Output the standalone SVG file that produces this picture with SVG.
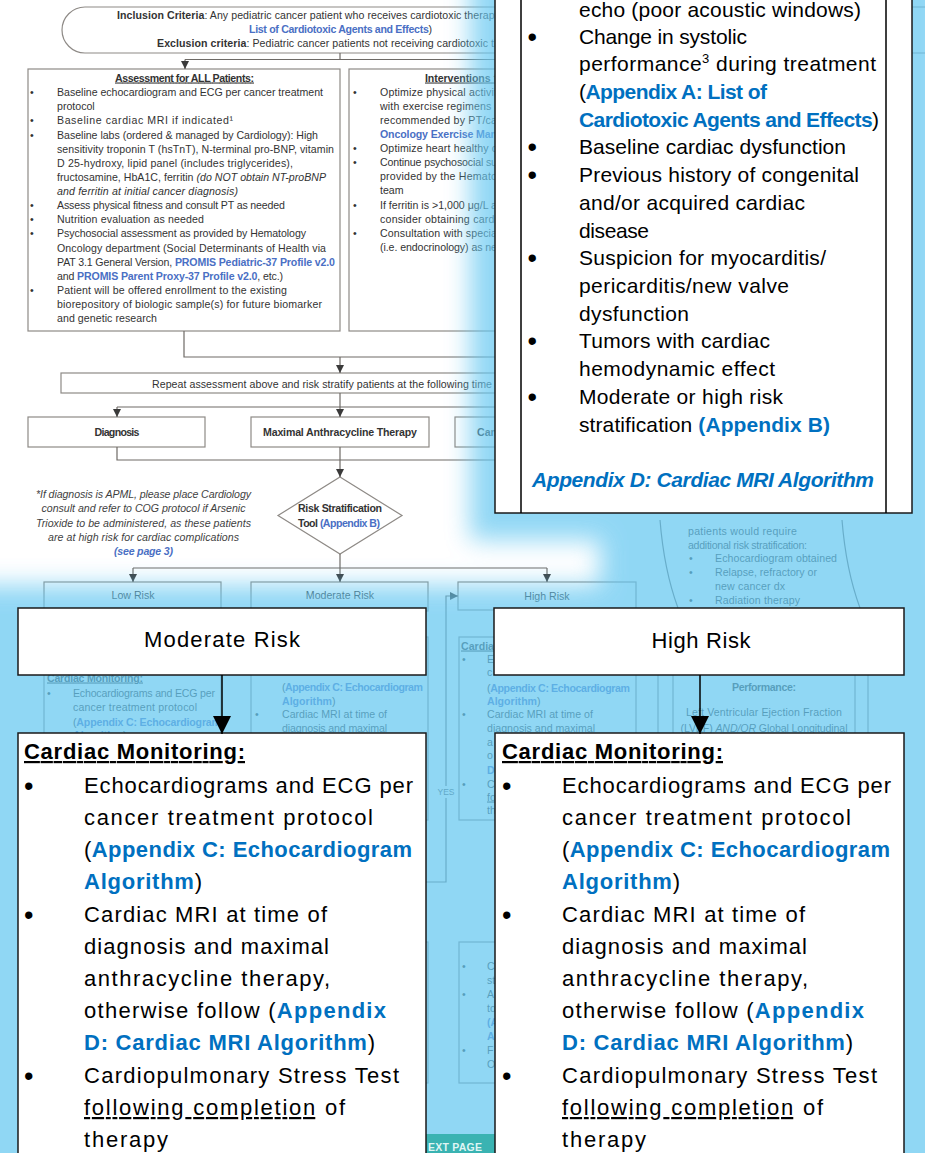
<svg xmlns="http://www.w3.org/2000/svg" width="925" height="1153" viewBox="0 0 925 1153">
<defs>
<style>
.bgt{font-family:"Liberation Sans",Arial,Helvetica,sans-serif;font-size:10.6px;fill:#333}
.b{font-weight:bold}
.i{font-style:italic}
.u{text-decoration:underline}
.lk{fill:#4a6fc4;font-weight:bold}
.nt{fill:#3f3f3f;font-style:italic}
.box{fill:#fff;stroke:#8e8a86;stroke-width:1.2}
.cn{fill:none;stroke:#6e6a66;stroke-width:1.2}
.ov{font-family:"Liberation Sans",Arial,Helvetica,sans-serif;font-size:21px;fill:#000}
.ovl{font-size:22px}
.bu{font-family:"Liberation Sans",Arial,Helvetica,sans-serif;font-size:27px;fill:#000}
.ob{font-weight:bold;fill:#0070c0}
.obox{fill:#fff;stroke:#1a1a1a;stroke-width:1.5}
.oline{fill:none;stroke:#000;stroke-width:1.5}
.glow{fill:#66c8f1}
</style>
<marker id="arr" viewBox="0 0 8 8" refX="8" refY="4" markerWidth="8" markerHeight="8" markerUnits="userSpaceOnUse" orient="auto"><path d="M0,0 L8,4 L0,8 z" fill="#3a3a3a"/></marker>
<marker id="arrBig" viewBox="0 0 18 18" refX="18" refY="9" markerWidth="18" markerHeight="18" markerUnits="userSpaceOnUse" orient="auto"><path d="M0,0 L18,9 L0,18 z" fill="#000"/></marker>
<filter id="soft" x="-20%" y="-20%" width="140%" height="140%"><feGaussianBlur stdDeviation="12"/></filter>
</defs>
<rect width="925" height="1153" fill="#fff"/>

<!-- ===== Background flowchart ===== -->
<g id="inclusion-criteria">
<path class="box" d="M960 7 H85 A23 23 0 0 0 85 53 H960"/>
<text class="bgt" x="117" y="18.5" textLength="383" lengthAdjust="spacing"><tspan class="b">Inclusion Criteria</tspan>: Any pediatric cancer patient who receives cardiotoxic therapy</text>
<text class="bgt" x="249" y="32.5" textLength="183" lengthAdjust="spacing"><tspan class="lk">List of Cardiotoxic Agents and Effects</tspan>)</text>
<text class="bgt" x="157" y="46.5" textLength="343" lengthAdjust="spacing"><tspan class="b">Exclusion criteria</tspan>: Pediatric cancer patients not receiving cardiotoxic th</text>
</g>

<g id="assessment">
<rect class="box" x="28" y="69" width="312" height="262"/>
<text class="bgt b u" x="184.5" y="81.5" text-anchor="middle" textLength="139" lengthAdjust="spacing">Assessment for ALL Patients:</text>
<text class="bgt" x="30" y="96">•</text>
<text class="bgt" x="57" y="96" textLength="266" lengthAdjust="spacing">Baseline echocardiogram and ECG per cancer treatment</text>
<text class="bgt" x="57" y="110">protocol</text>
<text class="bgt" x="30" y="124">•</text>
<text class="bgt" x="57" y="124" textLength="176" lengthAdjust="spacing">Baseline cardiac MRI if indicated¹</text>
<text class="bgt" x="30" y="139">•</text>
<text class="bgt" x="57" y="139" textLength="261" lengthAdjust="spacing">Baseline labs (ordered &amp; managed by Cardiology): High</text>
<text class="bgt" x="57" y="153" textLength="277" lengthAdjust="spacing">sensitivity troponin T (hsTnT), N-terminal pro-BNP, vitamin</text>
<text class="bgt" x="57" y="167" textLength="236" lengthAdjust="spacing">D 25-hydroxy, lipid panel (includes triglycerides),</text>
<text class="bgt" x="57" y="181" textLength="269" lengthAdjust="spacing">fructosamine, HbA1C, ferritin <tspan class="i">(do NOT obtain NT-proBNP</tspan></text>
<text class="bgt i" x="57" y="195" textLength="181" lengthAdjust="spacing">and ferritin at initial cancer diagnosis)</text>
<text class="bgt" x="30" y="209">•</text>
<text class="bgt" x="57" y="209" textLength="228" lengthAdjust="spacing">Assess physical fitness and consult PT as needed</text>
<text class="bgt" x="30" y="223">•</text>
<text class="bgt" x="57" y="223" textLength="147" lengthAdjust="spacing">Nutrition evaluation as needed</text>
<text class="bgt" x="30" y="237">•</text>
<text class="bgt" x="57" y="237" textLength="249" lengthAdjust="spacing">Psychosocial assessment as provided by Hematology</text>
<text class="bgt" x="57" y="252" textLength="269" lengthAdjust="spacing">Oncology department (Social Determinants of Health via</text>
<text class="bgt" x="57" y="266" textLength="278" lengthAdjust="spacing">PAT 3.1 General Version, <tspan class="lk">PROMIS Pediatric-37 Profile v2.0</tspan></text>
<text class="bgt" x="57" y="280" textLength="226" lengthAdjust="spacing">and <tspan class="lk">PROMIS Parent Proxy-37 Profile v2.0</tspan>, etc.)</text>
<text class="bgt" x="30" y="294">•</text>
<text class="bgt" x="57" y="294" textLength="230" lengthAdjust="spacing">Patient will be offered enrollment to the existing</text>
<text class="bgt" x="57" y="308" textLength="265" lengthAdjust="spacing">biorepository of biologic sample(s) for future biomarker</text>
<text class="bgt" x="57" y="322" textLength="100" lengthAdjust="spacing">and genetic research</text>
</g>

<g id="interventions">
<rect class="box" x="349" y="69" width="250" height="262"/>
<text class="bgt b u" x="425" y="81.5" textLength="72" lengthAdjust="spacing">Interventions f</text>
<text class="bgt" x="353" y="95.5">•</text>
<text class="bgt" x="380" y="95.5" textLength="117" lengthAdjust="spacing">Optimize physical activit</text>
<text class="bgt" x="380" y="109.5" textLength="117" lengthAdjust="spacing">with exercise regimens i</text>
<text class="bgt" x="380" y="123.5" textLength="117" lengthAdjust="spacing">recommended by PT/ca</text>
<text class="bgt lk" x="380" y="137.5" textLength="117" lengthAdjust="spacing">Oncology Exercise Man</text>
<text class="bgt" x="353" y="151.5">•</text>
<text class="bgt" x="380" y="151.5" textLength="117" lengthAdjust="spacing">Optimize heart healthy c</text>
<text class="bgt" x="353" y="165.5">•</text>
<text class="bgt" x="380" y="165.5" textLength="117" lengthAdjust="spacing">Continue psychosocial su</text>
<text class="bgt" x="380" y="179.5" textLength="117" lengthAdjust="spacing">provided by the Hemato</text>
<text class="bgt" x="380" y="193.5">team</text>
<text class="bgt" x="353" y="208.5">•</text>
<text class="bgt" x="380" y="208.5" textLength="117" lengthAdjust="spacing">If ferritin is &gt;1,000 μg/L a</text>
<text class="bgt" x="380" y="222.5" textLength="117" lengthAdjust="spacing">consider obtaining cardi</text>
<text class="bgt" x="353" y="236.5">•</text>
<text class="bgt" x="380" y="236.5" textLength="117" lengthAdjust="spacing">Consultation with specia</text>
<text class="bgt" x="380" y="250.5" textLength="117" lengthAdjust="spacing">(i.e. endocrinology) as ne</text>
</g>

<g id="repeat-assessment">
<rect class="box" x="61" y="373" width="540" height="20"/>
<text class="bgt" x="152" y="387.5" textLength="340" lengthAdjust="spacing">Repeat assessment above and risk stratify patients at the following time</text>
</g>
<g id="diagnosis">
<rect class="box" x="28" y="417" width="177" height="30"/>
<text class="bgt b" x="117" y="435.5" text-anchor="middle" textLength="45" lengthAdjust="spacing">Diagnosis</text>
</g>
<g id="maximal-anthracycline">
<rect class="box" x="251" y="417" width="178" height="30"/>
<text class="bgt b" x="340" y="435.5" text-anchor="middle" textLength="154" lengthAdjust="spacing">Maximal Anthracycline Therapy</text>
</g>
<g id="third-timepoint">
<rect class="box" x="455" y="417" width="178" height="30"/>
<text class="bgt b" x="477" y="435.5">Can</text>
</g>
<g id="risk-stratification-tool">
<polygon class="box" points="340,477 402,515.5 340,554 278,515.5"/>
<text class="bgt b" x="340" y="511.5" text-anchor="middle" textLength="84" lengthAdjust="spacing">Risk Stratification</text>
<text class="bgt b" x="339" y="526.5" text-anchor="middle" textLength="82" lengthAdjust="spacing">Tool <tspan class="lk">(Appendix B)</tspan></text>
</g>
<g id="apml-note">
<text class="bgt nt" x="143.5" y="497.5" text-anchor="middle" textLength="215" lengthAdjust="spacing">*If diagnosis is APML, please place Cardiology</text>
<text class="bgt nt" x="143.5" y="511.5" text-anchor="middle" textLength="204" lengthAdjust="spacing">consult and refer to COG protocol if Arsenic</text>
<text class="bgt nt" x="143.5" y="526.5" text-anchor="middle" textLength="215" lengthAdjust="spacing">Trioxide to be administered, as these patients</text>
<text class="bgt nt" x="143.5" y="540.5" text-anchor="middle" textLength="191" lengthAdjust="spacing">are at high risk for cardiac complications</text>
<text class="bgt lk i" x="143.5" y="554.5" text-anchor="middle" textLength="59" lengthAdjust="spacing">(see page 3)</text>
</g>

<g id="low-risk-column">
<rect class="box" x="44" y="582" width="177" height="28"/>
<text class="bgt" x="133" y="598.5" text-anchor="middle">Low Risk</text>
<rect class="box" x="44" y="620" width="177" height="200"/>
<text class="bgt b u" x="47" y="681.5" textLength="96" lengthAdjust="spacing">Cardiac Monitoring:</text>
<text class="bgt" x="47" y="696.5">•</text>
<text class="bgt" x="73" y="696.5" textLength="142" lengthAdjust="spacing">Echocardiograms and ECG per</text>
<text class="bgt" x="73" y="710.5" textLength="124" lengthAdjust="spacing">cancer treatment protocol</text>
<text class="bgt" x="73" y="725.5" textLength="148" lengthAdjust="spacing">(<tspan class="lk">Appendix C: Echocardiogram</tspan></text>
<text class="bgt" x="73" y="738.5"><tspan class="lk">Algorithm</tspan>)</text>
</g>

<g id="moderate-risk-column">
<rect class="box" x="251" y="582" width="177" height="29"/>
<text class="bgt" x="340" y="598.5" text-anchor="middle">Moderate Risk</text>
<rect class="box" x="251" y="637" width="177" height="183"/>
<text class="bgt" x="282" y="690.5" textLength="141" lengthAdjust="spacing">(<tspan class="lk">Appendix C: Echocardiogram</tspan></text>
<text class="bgt" x="282" y="704.5"><tspan class="lk">Algorithm</tspan>)</text>
<text class="bgt" x="255" y="717.5">•</text>
<text class="bgt" x="282" y="717.5" textLength="105" lengthAdjust="spacing">Cardiac MRI at time of</text>
<text class="bgt" x="282" y="731.5" textLength="105" lengthAdjust="spacing">diagnosis and maximal</text>
<rect class="box" x="251" y="942" width="177" height="141"/>
</g>

<g id="high-risk-column">
<rect class="box" x="458" y="582" width="178" height="28"/>
<text class="bgt" x="547" y="599.5" text-anchor="middle">High Risk</text>
<rect class="box" x="459" y="637" width="177" height="183"/>
<text class="bgt b u" x="461" y="649.5">Cardia</text>
<text class="bgt" x="462" y="662.5">•</text>
<text class="bgt" x="487" y="662.5">E</text>
<text class="bgt" x="487" y="675.5">c</text>
<text class="bgt" x="487" y="691.5" textLength="143" lengthAdjust="spacing">(<tspan class="lk">Appendix C: Echocardiogram</tspan></text>
<text class="bgt" x="487" y="704.5"><tspan class="lk">Algorithm</tspan>)</text>
<text class="bgt" x="462" y="717.5">•</text>
<text class="bgt" x="487" y="717.5" textLength="106" lengthAdjust="spacing">Cardiac MRI at time of</text>
<text class="bgt" x="487" y="731.5" textLength="108" lengthAdjust="spacing">diagnosis and maximal</text>
<text class="bgt" x="487" y="745.5">a</text>
<text class="bgt" x="487" y="758.5">o</text>
<text class="bgt lk" x="487" y="773.5">D</text>
<text class="bgt" x="462" y="787.5">•</text>
<text class="bgt" x="487" y="787.5">C</text>
<text class="bgt u" x="487" y="800.5">fo</text>
<text class="bgt" x="487" y="813.5">th</text>
<rect class="box" x="459" y="942" width="177" height="141"/>
<text class="bgt" x="462" y="969.5">•</text>
<text class="bgt" x="487" y="969.5">C</text>
<text class="bgt" x="487" y="983.5">st</text>
<text class="bgt" x="462" y="997.5">•</text>
<text class="bgt" x="487" y="997.5">A</text>
<text class="bgt" x="487" y="1011.5">to</text>
<text class="bgt lk" x="487" y="1025.5">(A</text>
<text class="bgt lk" x="487" y="1039.5">A</text>
<text class="bgt" x="462" y="1053.5">•</text>
<text class="bgt" x="487" y="1053.5">F</text>
<text class="bgt" x="487" y="1067.5">O</text>
</g>

<g id="additional-risk-note">
<path class="cn" d="M660 520 Q664 570 678 608"/>
<path class="cn" d="M842 520 Q846 570 860 608"/>
<text class="bgt" x="688" y="534.5" textLength="109" lengthAdjust="spacing">patients would require</text>
<text class="bgt" x="688" y="548.5" textLength="119" lengthAdjust="spacing">additional risk stratification:</text>
<text class="bgt" x="689" y="561.5">•</text>
<text class="bgt" x="715" y="561.5" textLength="122" lengthAdjust="spacing">Echocardiogram obtained</text>
<text class="bgt" x="689" y="575.5">•</text>
<text class="bgt" x="715" y="575.5" textLength="102" lengthAdjust="spacing">Relapse, refractory or</text>
<text class="bgt" x="715" y="589.5" textLength="70" lengthAdjust="spacing">new cancer dx</text>
<text class="bgt" x="689" y="603.5">•</text>
<text class="bgt" x="715" y="603.5" textLength="85" lengthAdjust="spacing">Radiation therapy</text>
</g>

<g id="systolic-performance">
<rect class="box" x="658" y="612" width="210" height="200"/>
<rect class="box" x="673" y="620" width="182" height="180"/>
<text class="bgt b" x="764" y="690.5" text-anchor="middle" textLength="64" lengthAdjust="spacing">Performance:</text>
<text class="bgt" x="764" y="715.5" text-anchor="middle" textLength="156" lengthAdjust="spacing">Left Ventricular Ejection Fraction</text>
<text class="bgt" x="764" y="731.5" text-anchor="middle" textLength="167" lengthAdjust="spacing">(LVEF) <tspan class="i">AND/OR</tspan> Global Longitudinal</text>
</g>

<g id="background-connectors">
<path class="cn" d="M340 53 V59.5"/>
<path class="cn" d="M185 59.5 H560"/>
<path class="cn" d="M185 59.5 V69" marker-end="url(#arr)"/>
<path class="cn" d="M184 331 V357 H560"/>
<path class="cn" d="M340 357 V373" marker-end="url(#arr)"/>
<path class="cn" d="M340 393 V407"/>
<path class="cn" d="M117 407 H560"/>
<path class="cn" d="M117 407 V417" marker-end="url(#arr)"/>
<path class="cn" d="M340 407 V417" marker-end="url(#arr)"/>
<path class="cn" d="M117 447 V460 H560"/>
<path class="cn" d="M340 447 V460"/>
<path class="cn" d="M340 460 V477" marker-end="url(#arr)"/>
<path class="cn" d="M340 554 V568"/>
<path class="cn" d="M133 568 H547"/>
<path class="cn" d="M133 568 V582" marker-end="url(#arr)"/>
<path class="cn" d="M340 568 V582" marker-end="url(#arr)"/>
<path class="cn" d="M547 568 V582" marker-end="url(#arr)"/>
<path class="cn" d="M426 882 H446 V596 H458" marker-end="url(#arr)"/>
<rect x="437" y="786" width="18" height="12" fill="#fff"/>
<text class="bgt" x="446" y="795" text-anchor="middle" style="font-size:8.5px;fill:#555">YES</text>
</g>

<!-- ===== Glow ===== -->
<g id="glow" filter="url(#soft)" opacity="0.72">
<rect class="glow" x="470" y="-40" width="480" height="580"/>
<rect class="glow" x="600" y="500" width="350" height="130"/>
<rect class="glow" x="-40" y="585" width="1005" height="620"/>
</g>

<g id="next-page-bar">
<rect x="420" y="1134" width="80" height="19" fill="#3ab3b2"/>
<text class="bgt b" x="428" y="1151" style="fill:#dff5f4;font-size:10.5px" textLength="54" lengthAdjust="spacing">EXT PAGE</text>
</g>

<!-- ===== Overlay callouts ===== -->
<g id="cardiac-mri-indications">
<rect class="obox" x="495" y="-5" width="417" height="518"/>
<path class="oline" d="M521 -5 V513 M886 -5 V513"/>
<text class="ov" x="579" y="17" textLength="282" lengthAdjust="spacing">echo (poor acoustic windows)</text>
<text class="bu" x="527.5" y="45.5">•</text>
<text class="ov" x="579" y="44" textLength="168" lengthAdjust="spacing">Change in systolic</text>
<text class="ov" x="579" y="71" textLength="297" lengthAdjust="spacing">performance<tspan font-size="13" dy="-8">3</tspan><tspan dy="8"> during treatment</tspan></text>
<text class="ov" x="579" y="99" textLength="188" lengthAdjust="spacing">(<tspan class="ob">Appendix A: List of</tspan></text>
<text class="ov" x="579" y="127" textLength="300" lengthAdjust="spacing"><tspan class="ob">Cardiotoxic Agents and Effects</tspan>)</text>
<text class="bu" x="527.5" y="155.5">•</text>
<text class="ov" x="579" y="154" textLength="267" lengthAdjust="spacing">Baseline cardiac dysfunction</text>
<text class="bu" x="527.5" y="183.5">•</text>
<text class="ov" x="579" y="182" textLength="280" lengthAdjust="spacing">Previous history of congenital</text>
<text class="ov" x="579" y="210" textLength="226" lengthAdjust="spacing">and/or acquired cardiac</text>
<text class="ov" x="579" y="238" textLength="70" lengthAdjust="spacing">disease</text>
<text class="bu" x="527.5" y="266.5">•</text>
<text class="ov" x="579" y="265" textLength="247" lengthAdjust="spacing">Suspicion for myocarditis/</text>
<text class="ov" x="579" y="293" textLength="210" lengthAdjust="spacing">pericarditis/new valve</text>
<text class="ov" x="579" y="321" textLength="110" lengthAdjust="spacing">dysfunction</text>
<text class="bu" x="527.5" y="349.5">•</text>
<text class="ov" x="579" y="348" textLength="191" lengthAdjust="spacing">Tumors with cardiac</text>
<text class="ov" x="579" y="376" textLength="196" lengthAdjust="spacing">hemodynamic effect</text>
<text class="bu" x="527.5" y="405.5">•</text>
<text class="ov" x="579" y="404" textLength="204" lengthAdjust="spacing">Moderate or high risk</text>
<text class="ov" x="579" y="432" textLength="251" lengthAdjust="spacing">stratification <tspan class="ob">(Appendix B)</tspan></text>
<text class="ov ob i" x="532" y="487" textLength="342" lengthAdjust="spacing">Appendix D: Cardiac MRI Algorithm</text>
</g>

<g id="moderate-risk-callout">
<rect class="obox" x="18" y="608" width="408" height="67"/>
<text class="ov ovl" x="222" y="647" text-anchor="middle" textLength="156" lengthAdjust="spacing">Moderate Risk</text>
</g>
<g id="high-risk-callout">
<rect class="obox" x="494" y="608" width="410" height="67"/>
<text class="ov ovl" x="701" y="648" text-anchor="middle" textLength="99" lengthAdjust="spacing">High Risk</text>
</g>

<g id="moderate-cardiac-monitoring">
<rect class="obox" x="18" y="733" width="408" height="440"/>
<text class="ov ovl b u" x="24" y="759" textLength="221" lengthAdjust="spacing">Cardiac Monitoring:</text>
<text class="bu" x="24" y="795">•</text>
<text class="ov ovl" x="84" y="793" textLength="329" lengthAdjust="spacing">Echocardiograms and ECG per</text>
<text class="ov ovl" x="84" y="825" textLength="289" lengthAdjust="spacing">cancer treatment protocol</text>
<text class="ov ovl" x="84" y="857" textLength="328" lengthAdjust="spacing">(<tspan class="ob">Appendix C: Echocardiogram</tspan></text>
<text class="ov ovl" x="84" y="889" textLength="118" lengthAdjust="spacing"><tspan class="ob">Algorithm</tspan>)</text>
<text class="bu" x="24" y="924">•</text>
<text class="ov ovl" x="84" y="922" textLength="243" lengthAdjust="spacing">Cardiac MRI at time of</text>
<text class="ov ovl" x="84" y="954" textLength="245" lengthAdjust="spacing">diagnosis and maximal</text>
<text class="ov ovl" x="84" y="986" textLength="246" lengthAdjust="spacing">anthracycline therapy,</text>
<text class="ov ovl" x="84" y="1018" textLength="302" lengthAdjust="spacing">otherwise follow (<tspan class="ob">Appendix</tspan></text>
<text class="ov ovl" x="84" y="1050" textLength="291" lengthAdjust="spacing"><tspan class="ob">D: Cardiac MRI Algorithm</tspan>)</text>
<text class="bu" x="24" y="1085">•</text>
<text class="ov ovl" x="84" y="1083" textLength="315" lengthAdjust="spacing">Cardiopulmonary Stress Test</text>
<text class="ov ovl" x="84" y="1115" textLength="261" lengthAdjust="spacing"><tspan class="u">following completion</tspan> of</text>
<text class="ov ovl" x="84" y="1147" textLength="84" lengthAdjust="spacing">therapy</text>
</g>

<g id="high-cardiac-monitoring" transform="translate(477 0)">
<rect class="obox" x="18" y="733" width="409" height="440"/>
<text class="ov ovl b u" x="25" y="759" textLength="221" lengthAdjust="spacing">Cardiac Monitoring:</text>
<text class="bu" x="25" y="795">•</text>
<text class="ov ovl" x="85" y="793" textLength="329" lengthAdjust="spacing">Echocardiograms and ECG per</text>
<text class="ov ovl" x="85" y="825" textLength="289" lengthAdjust="spacing">cancer treatment protocol</text>
<text class="ov ovl" x="85" y="857" textLength="328" lengthAdjust="spacing">(<tspan class="ob">Appendix C: Echocardiogram</tspan></text>
<text class="ov ovl" x="85" y="889" textLength="118" lengthAdjust="spacing"><tspan class="ob">Algorithm</tspan>)</text>
<text class="bu" x="25" y="924">•</text>
<text class="ov ovl" x="85" y="922" textLength="243" lengthAdjust="spacing">Cardiac MRI at time of</text>
<text class="ov ovl" x="85" y="954" textLength="245" lengthAdjust="spacing">diagnosis and maximal</text>
<text class="ov ovl" x="85" y="986" textLength="246" lengthAdjust="spacing">anthracycline therapy,</text>
<text class="ov ovl" x="85" y="1018" textLength="302" lengthAdjust="spacing">otherwise follow (<tspan class="ob">Appendix</tspan></text>
<text class="ov ovl" x="85" y="1050" textLength="291" lengthAdjust="spacing"><tspan class="ob">D: Cardiac MRI Algorithm</tspan>)</text>
<text class="bu" x="25" y="1085">•</text>
<text class="ov ovl" x="85" y="1083" textLength="315" lengthAdjust="spacing">Cardiopulmonary Stress Test</text>
<text class="ov ovl" x="85" y="1115" textLength="261" lengthAdjust="spacing"><tspan class="u">following completion</tspan> of</text>
<text class="ov ovl" x="85" y="1147" textLength="84" lengthAdjust="spacing">therapy</text>
</g>

<g id="callout-connectors">
<path class="oline" d="M222 675 V734" marker-end="url(#arrBig)"/>
<path class="oline" d="M700 675 V734" marker-end="url(#arrBig)"/>
</g>
</svg>
